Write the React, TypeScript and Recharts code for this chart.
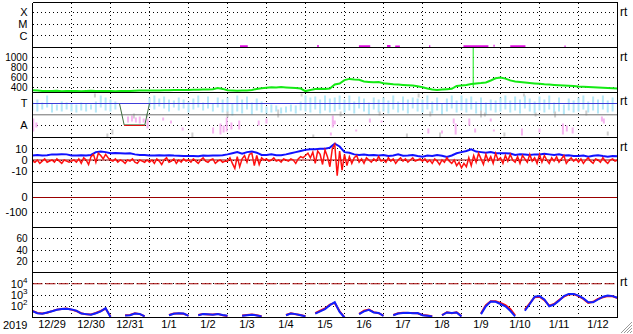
import { LineChart, Line, XAxis, YAxis, ReferenceLine, CartesianGrid } from 'recharts'

const FONT = '"Liberation Sans", Arial, sans-serif'

const dayLabels = ['12/29', '12/30', '12/31', '1/1', '1/2', '1/3', '1/4', '1/5', '1/6', '1/7', '1/8', '1/9', '1/10', '1/11', '1/12']
const DAYS = dayLabels.length
const dayTicks = dayLabels.slice(1).map((_, i) => i + 1)
const labelTicks = dayLabels.map((_, i) => i + 0.5)

// x-ray flux, log10 level, pieces [start, end, level]
const xraySegs: [number, number, number][] = [
  [5.32, 5.52, -6.9], [7.3, 7.34, -6.88], [8.37, 8.66, -6.9], [9.09, 9.18, -6.88], [9.3, 9.42, -6.92],
  [10.17, 10.2, -6.9], [11.05, 11.69, -6.9], [11.82, 11.85, -6.86], [12.25, 12.64, -6.9], [13.64, 13.67, -6.92],
]

// solar wind speed km/s, 8 per day
const speed = [
  345, 340, 332, 330, 328, 334, 326, 330,
  328, 332, 326, 330, 336, 330, 328, 332,
  330, 326, 328, 332, 330, 336, 338, 340,
  338, 342, 340, 346, 344, 350, 348, 352,
  350, 356, 354, 360, 358, 366, 390, 372,
  346, 340, 336, 338, 342, 350, 372, 384,
  396, 404, 398, 408, 402, 396, 388, 380,
  328, 350, 368, 374, 372, 380, 462, 478,
  548, 572, 562, 556, 522, 512, 504, 508,
  486, 476, 466, 460, 452, 446, 438, 424,
  406, 382, 362, 352, 358, 366, 374, 430,
  440, 452, 470, 482, 490, 502, 540, 584,
  600, 578, 542, 520, 512, 500, 490, 482,
  476, 466, 460, 452, 446, 440, 436, 430,
  420, 416, 410, 404, 400, 396, 390, 386, 380,
]
const speedSpike: [number, number, number][] = [[11.3, 410, 1190]]

// T / A panel levels
const tLevel = 34
const grayLevel = 22.7
const aLevel = 12
const dropLine: [number, number][] = [[2.23, 34], [2.35, 12.6], [2.88, 12.6], [3.0, 34]]
const dropFloor: [number, number][] = [[2.35, 12], [2.88, 12]]

const cyanLo = [
  27, 26, 28, 30, 25, 27, 26, 28,
  26, 25, 27, 26, 28, 25, 30, 27,
  26, 28, null, null, null, null, null, null,
  30, 28, 31, 29, 26, 30, 27, 29,
  25, 28, 30, 27, 29, 26, 30, 25,
  25, 22, 26, 24, 28, 23, 27, 25,
  24, 25, 26, 24, 25, 26, 24, 27,
  26, 25, 28, 24, 27, 25, 26, 28,
  25, 27, 24, 29, 26, 23, 28, 25,
  26, 24, 28, 25, 27, 24, 29, 26,
  25, 28, 24, 27, 23, 26, 29, 25,
  27, 25, 28, 24, 26, 23, 27, 25,
  26, 28, 25, 27, 24, 29, 26, 24,
  27, 25, 28, 24, 26, 23, 27, 25,
  26, 28, 25, 27, 24, 28, 25, 26,
]
const cyanHi = [
  36, 38, 35, 42, 34, 33, 36, 35,
  34, 33, 35, 34, 33, 36, 42, 40,
  38, 36, null, null, null, null, null, null,
  40, 42, 39, 41, 38, 37, 40, 38,
  36, 39, 42, 35, 41, 34, 40, 38,
  40, 34, 42, 38, 41, 35, 39, 36,
  31, 33, 32, 30, 31, 33, 32, 36,
  42, 40, 41, 38, 42, 39, 40, 42,
  38, 42, 36, 41, 39, 35, 40, 38,
  40, 37, 42, 36, 41, 38, 40, 39,
  38, 42, 36, 40, 34, 39, 42, 37,
  42, 39, 41, 36, 40, 35, 38, 37,
  40, 42, 37, 41, 38, 42, 39, 36,
  41, 38, 42, 35, 40, 33, 39, 37,
  40, 42, 36, 41, 38, 42, 37, 40,
]
const pinkStreaks: [number, number, number][] = [
  [0.02, 6, 19], [0.1, 10, 15], [2.45, 15, 21], [2.55, 16, 22], [2.65, 15, 20], [2.75, 14, 21], [2.85, 15, 19],
  [2.95, 9, 19], [3.35, 17, 20], [3.55, 14, 17], [3.85, 7, 10], [4.63, 4, 10], [4.82, 3, 14], [4.9, 5, 12],
  [4.98, 6, 20], [5.1, 8, 15], [5.3, 8, 17], [5.8, 12, 17], [6.0, 14, 19], [7.65, 2, 5], [7.7, 10, 22],
  [7.75, 13, 17], [8.3, 6, 8], [8.65, 15, 19], [8.95, 15, 17], [10.15, 4, 9], [10.5, 4, 7], [10.8, 14, 19],
  [10.85, 3, 14], [11.2, 12, 19], [11.35, 5, 9], [11.75, 16, 19], [11.83, 6, 8], [12.55, 2, 9], [13.0, 5, 9],
  [13.6, 3, 14], [13.7, 6, 12], [13.85, 4, 10], [14.6, 16, 21], [14.65, 14, 19],
]
const grayStreaks: [number, number, number][] = [
  [1.6, 40, 44], [1.92, 0, 4], [2.05, 3, 8], [2.6, 19, 24], [2.93, 20, 24], [4.1, 0, 5], [5.0, 20, 26],
  [6.3, 20, 28], [6.9, 41, 44], [7.2, 0, 3], [7.9, 21, 26], [8.9, 22, 26], [9.6, 0, 4], [9.9, 40, 44],
  [10.2, 21, 26], [10.45, 0, 5], [11.5, 20, 27], [11.6, 21, 25], [12.1, 1, 5], [12.6, 41, 44],
  [12.9, 21, 25], [13.4, 20, 26], [14.2, 22, 27], [14.75, 2, 6],
]

// magnetic field nT: Bt 8 per day, Bz 16 per day
const bt = [
  4, 4.5, 4, 4.2, 5, 5, 5.2, 5,
  4, 4, 4.2, 4, 4.5, 7, 7.5, 7,
  6, 6.2, 6, 5.8, 6, 5, 4.5, 4.4,
  4, 4, 4.2, 4, 4.3, 4, 3.8, 3.5,
  3.5, 3.6, 3.4, 4, 3.8, 4, 4, 4.2,
  5, 6, 7, 5.5, 7, 7.5, 6.5, 4.5,
  4.5, 5, 4.2, 4.2, 5, 6, 7, 8,
  9, 9.5, 9.5, 10, 10, 11, 14.5, 12,
  7, 6.5, 5, 4.5, 4.8, 4.2, 4.5, 4,
  4.5, 3.5, 4, 5, 3.8, 4, 4.5, 3.5,
  3, 4, 3.5, 4.5, 3.8, 2.8, 4, 6,
  7, 8, 9.5, 7.5, 7, 6.5, 7, 6,
  6, 6, 5.8, 4.5, 5, 4.8, 4.5, 5,
  5, 5.5, 5, 4.5, 5, 4, 4.2, 3.5,
  3.5, 4, 3, 3.8, 4.2, 3.5, 3, 3.6, 3.4,
]
const bz = [
  -1, -2, 0, -3, -1, 1, -2, -1, 0, -2, 1, -1, -3, 0, -1, -2,
  -1, 0, -2, 1, -3, 2, 0, -4, 3, 5, -2, 6, 4, 1, 5, 2,
  0, -1, 1, -2, 0, -1, -3, 0, -1, 1, -2, -3, 0, -1, -2, 0,
  -2, 0, -3, 1, -1, -4, 0, 2, -2, -1, 1, -3, 0, -2, 1, -1,
  0, -2, 1, -1, -3, 0, 2, -1, -2, 0, 1, -3, -1, 0, -2, -1,
  -1, 2, -3, -7.5, 3, -6, 1, 4, -2, 5, 6, -5, 4, -4, 2, 0,
  1, -1, 0, 2, -1, 0, -2, 1, 0, -1, 1, 0, -3, 1, 3, 2,
  4, 6, 2, 7, -3, 8, 5, -4, 9, 3, -6, 10, 14, -14, 8, -9,
  5, -5, 3, -3, 2, 4, -2, 1, -3, 2, 0, -2, 1, -1, 3, -1,
  0, -2, 2, -1, 1, -3, 0, 2, -1, 1, -2, 0, 2, -1, 0, 1,
  -1, 1, -2, 0, -3, 1, -1, -4, 0, -2, 2, -1, -3, 0, -5, -2,
  -7, -3, -6, 2, -5, 4, -2, 6, 1, -4, 5, -1, 3, -3, 6, 0,
  2, -3, 4, -1, 5, 0, -2, 3, -3, 4, 1, -2, 5, -1, 2, -3,
  5, -2, 4, 0, -3, 2, -1, 3, -2, 1, 4, -3, 0, 2, -1, 1,
  -2, 1, -3, 0, 2, -1, -3, 1, 0, -2, 2, -1, -3, 0, 1, -1, 0,
]

// electron flux, log10, 8 per day
const eBlue = [
  1.56, 1.38, 1.33, 1.45, 1.55, 1.68, 1.75, 1.78,
  1.72, 1.6, 1.35, 1.3, 1.24, 1.38, 1.55, 1.83,
  1.05, null, null, 1.18, 1.2, 1.36, 1.32, 1.1,
  null, null, null, null, 1.2, 1.33, 1.38, 1.35,
  1.15, null, 1.2, 1.3, 1.28, 1.25, 1.3, 1.22,
  1.15, null, null, 1.15, 1.2, 1.25, 1.18, 1.1,
  null, null, null, null, 1.2, 1.35, 1.3, 1.2,
  1.1, null, 1.35, 1.55, 1.75, 2.1, 2.36, 1.5,
  1.0, null, null, 1.3, 1.55, 1.68, 1.45, 1.4,
  1.15, null, 1.2, 1.36, 1.4, 1.42, 1.38, 1.4,
  1.2, 1.15, 1.1, null, 1.2, 1.45, 1.4, 1.45,
  1.1, null, null, null, 1.3, 2.0, 2.42, 2.4,
  2.2, 2.0, 1.6, 1.1, null, 1.6, 2.2, 2.85,
  2.9, 2.6, 2.0, 2.15, 2.5, 2.9, 3.1, 3.1,
  2.95, 2.7, 2.35, 2.35, 2.6, 2.85, 2.95, 2.9, 2.75,
]
const eRed = [
  1.58, 1.4, 1.36, 1.42, 1.57, 1.7, 1.76, 1.8,
  1.7, 1.58, 1.38, 1.28, 1.26, 1.4, 1.58, 1.8,
  1.08, null, null, 1.2, 1.22, 1.38, 1.3, 1.12,
  null, null, null, null, 1.22, 1.35, 1.36, 1.33,
  1.17, null, 1.22, 1.32, 1.26, 1.27, 1.32, 1.2,
  1.13, null, null, 1.17, 1.22, 1.27, 1.2, 1.12,
  null, null, null, null, 1.22, 1.37, 1.28, 1.22,
  1.12, null, 1.38, 1.6, 1.8, 2.15, 2.3, 1.55,
  1.02, null, null, 1.33, 1.6, 1.7, 1.48, 1.38,
  1.17, null, 1.22, 1.38, 1.42, 1.4, 1.4, 1.38,
  1.22, 1.17, 1.12, null, 1.22, 1.47, 1.38, 1.47,
  1.12, null, null, null, 1.35, 2.1, 2.45, 2.45,
  2.3, 2.1, 1.75, 1.2, null, 1.7, 2.25, 2.8,
  2.85, 2.55, 2.05, 2.2, 2.55, 2.85, 3.05, 3.08,
  2.9, 2.65, 2.3, 2.4, 2.65, 2.8, 2.9, 2.88, 2.72,
]

const series = (arr: (number | null)[], perDay: number) => arr.map((v, i) => ({ t: i / perDay, v }))
const streaks = (list: [number, number, number][]) =>
  list.flatMap(([t, lo, hi]) => [{ t, v: lo }, { t, v: hi }, { t, v: null }])
const segs = (list: [number, number, number][]) =>
  list.flatMap(([a, b, v]) => [{ t: a, v }, { t: b, v }, { t: b, v: null }])
const pts = (list: [number, number][]) => list.map(([t, v]) => ({ t, v }))
const level = (v: number) => [{ t: 0, v }, { t: DAYS, v }]

const cyanData = cyanLo.flatMap((lo, i) =>
  lo == null ? [] : [{ t: i / 8, v: lo }, { t: i / 8, v: cyanHi[i] }, { t: i / 8, v: null }],
)

const TICK = { fontSize: 11, fill: '#000', fontFamily: FONT }
const SMALL_TICK = { fontSize: 10, fill: '#000', fontFamily: FONT }

function border(lo: number, hi: number) {
  return [
    <ReferenceLine key="bl" x={0} stroke="#000" shapeRendering="crispEdges" />,
    <ReferenceLine key="br" x={DAYS} stroke="#000" shapeRendering="crispEdges" />,
    <ReferenceLine key="bt" y={hi} stroke="#000" shapeRendering="crispEdges" />,
    <ReferenceLine key="bb" y={lo} stroke="#000" shapeRendering="crispEdges" />,
  ]
}

function PowTick(props: any) {
  const { x, y, payload } = props
  return (
    <text x={x} y={y + 4} textAnchor="end" fontSize={11} fontFamily={FONT} fill="#000">
      10<tspan dy={-5} fontSize={8}>{payload.value}</tspan>
    </text>
  )
}

function Panel({ index, domain, ticks, fmt, tick, children, bottom }: any) {
  return (
    <div style={{ position: 'absolute', left: 0, top: 2 + 45 * index }}>
      <LineChart
        width={633}
        height={bottom ? 62 : 46}
        margin={{ top: 0.5, right: 15.5, bottom: 0.5, left: 0.5 }}
      >
        <CartesianGrid stroke="#000" strokeDasharray="1 3" fill="none" shapeRendering="crispEdges" />
        {bottom && (
          <XAxis
            xAxisId="labels"
            type="number"
            dataKey="t"
            domain={[0, DAYS]}
            allowDataOverflow
            ticks={labelTicks}
            tickFormatter={(v: number) => dayLabels[Math.floor(v)]}
            interval={0}
            axisLine={false}
            tickLine={false}
            tickSize={0}
            tickMargin={3}
            height={16}
            tick={TICK}
          />
        )}
        <XAxis
          type="number"
          dataKey="t"
          domain={[0, DAYS]}
          allowDataOverflow
          hide
          height={0}
          ticks={dayTicks}
          interval={0}
        />
        <YAxis
          type="number"
          domain={domain}
          allowDataOverflow
          ticks={ticks}
          interval={0}
          tickFormatter={fmt}
          width={32}
          axisLine={false}
          tickLine={false}
          tickSize={0}
          tickMargin={5}
          tick={tick ?? TICK}
        />
        {children}
        {border(domain[0], domain[1])}
      </LineChart>
    </div>
  )
}

const common = { dataKey: 'v', dot: false, activeDot: false, isAnimationActive: false, type: 'linear' as const }
const flareNames: Record<number, string> = { [-4]: 'X', [-5]: 'M', [-6]: 'C' }

export default function App() {
  return (
    <div
      style={{
        position: 'absolute',
        left: 0,
        top: 0,
        width: 633,
        height: 334,
        background: '#fff',
        fontFamily: FONT,
        overflow: 'hidden',
      }}
    >
      <Panel index={0} domain={[-7, -3.17]} ticks={[-6, -5, -4]} fmt={(v: number) => flareNames[v]}>
        <Line {...common} data={segs(xraySegs)} stroke="#e010e0" strokeWidth={2} />
      </Panel>

      <Panel index={1} domain={[300, 1200]} ticks={[400, 600, 800, 1000]} tick={SMALL_TICK}>
        <Line {...common} data={series(speed, 8)} stroke="#14ea14" strokeWidth={2} />
        <Line {...common} data={streaks(speedSpike)} stroke="#14ea14" strokeWidth={1} />
      </Panel>

      <Panel index={2} domain={[0, 45]} ticks={[aLevel, tLevel]} fmt={(v: number) => (v === tLevel ? 'T' : 'A')}>
        <Line {...common} data={cyanData} stroke="#b4e8f8" strokeWidth={2} />
        <Line {...common} data={streaks(grayStreaks)} stroke="#cfcfcf" strokeWidth={2} />
        <Line {...common} data={streaks(pinkStreaks)} stroke="#f6b4f0" strokeWidth={2} />
        <Line {...common} data={level(tLevel)} stroke="#3c3cd8" strokeWidth={1} />
        <Line {...common} data={level(grayLevel)} stroke="#707070" strokeWidth={1} />
        <Line {...common} data={pts(dropLine)} stroke="#3f6f3f" strokeWidth={1} />
        <Line {...common} data={pts(dropFloor)} stroke="#e01010" strokeWidth={1} />
      </Panel>

      <Panel index={3} domain={[-20, 20]} ticks={[-10, 0, 10]}>
        <Line {...common} data={level(0)} stroke="#990000" strokeWidth={1} />
        <Line {...common} data={series(bt, 8)} stroke="#1010ff" strokeWidth={2} />
        <Line {...common} data={series(bz, 16)} stroke="#ff1010" strokeWidth={1.5} />
      </Panel>

      <Panel index={4} domain={[-200, 100]} ticks={[-100, 0]}>
        <Line {...common} data={level(0)} stroke="#990000" strokeWidth={1} />
      </Panel>

      <Panel index={5} domain={[0, 80]} ticks={[20, 40, 60]} tick={SMALL_TICK} />

      <Panel index={6} domain={[1, 5]} ticks={[2, 3, 4]} tick={<PowTick />} bottom>
        <Line {...common} data={level(4)} stroke="#a00000" strokeWidth={1} strokeDasharray="10 3" />
        <Line {...common} data={series(eRed, 8)} stroke="#ff1010" strokeWidth={2} />
        <Line {...common} data={series(eBlue, 8)} stroke="#1020ff" strokeWidth={2} />
      </Panel>

      {[6, 51, 95, 141, 276].map((y) => (
        <div key={y} style={{ position: 'absolute', left: 620, top: y, fontSize: 12, lineHeight: '12px' }}>
          rt
        </div>
      ))}
      <div style={{ position: 'absolute', left: 3, top: 319, fontSize: 11, lineHeight: '12px' }}>2019</div>
      <svg style={{ position: 'absolute', left: 618, top: 319 }} width={15} height={15}>
        <line x1={3} y1={14} x2={14} y2={3} stroke="#999" />
        <line x1={6} y1={14} x2={14} y2={6} stroke="#999" />
        <line x1={9} y1={14} x2={14} y2={9} stroke="#999" />
        <line x1={12} y1={14} x2={14} y2={12} stroke="#999" />
      </svg>
    </div>
  )
}
